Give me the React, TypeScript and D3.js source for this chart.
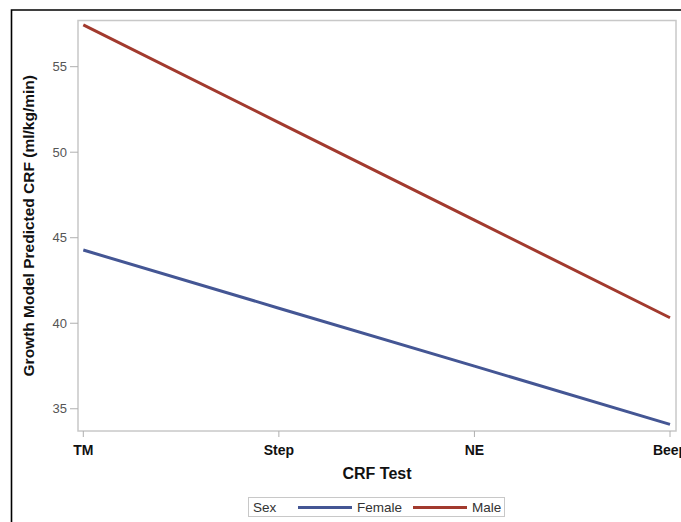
import React from "react";
import * as d3 from "d3";

const categories = ["TM", "Step", "NE", "Beep"];
const femaleValues = [44.28, 40.88, 37.49, 34.09];
const maleValues = [57.44, 51.73, 46.03, 40.32];
const yTicks = [35, 40, 45, 50, 55];
const seriesNames = ["Female", "Male"];
const seriesColors = ["#445694", "#A23A2E"];

const W = 681;
const H = 522;
const plot = { left: 78, right: 676, top: 20.5, bottom: 431 };
const FONT = "'Liberation Sans', Arial, Helvetica, sans-serif";

export default function App() {
  const x = d3
    .scalePoint<string>()
    .domain(categories)
    .range([83.3, 670]);
  const y = d3.scaleLinear().domain([33.7, 57.7]).range([plot.bottom, plot.top]);
  const line = d3
    .line<number>()
    .x((_, i) => x(categories[i]) as number)
    .y((d) => y(d));
  const series = [femaleValues, maleValues];

  return (
    <svg
      width={W}
      height={H}
      style={{ position: "absolute", left: 0, top: 0, background: "#fff" }}
      fontFamily={FONT}
    >
      <rect x={0} y={0} width={W} height={H} fill="#fff" />
      {/* outer frame */}
      <path d={`M11.5,${H + 2} L11.5,10 L${W + 2},10`} fill="none" stroke="#000" strokeWidth={1.6} />
      {/* plot frame */}
      <rect
        x={plot.left}
        y={plot.top}
        width={plot.right - plot.left}
        height={plot.bottom - plot.top}
        fill="none"
        stroke="#c8c8c8"
        strokeWidth={1.5}
      />
      {/* y ticks */}
      {yTicks.map((t) => (
        <g key={t}>
          <line x1={70} x2={plot.left} y1={y(t)} y2={y(t)} stroke="#b0b0b0" strokeWidth={1} />
          <text
            x={67}
            y={y(t)}
            dy="0.35em"
            textAnchor="end"
            fontSize={13}
            fill="#555"
          >
            {t}
          </text>
        </g>
      ))}
      {/* x ticks */}
      {categories.map((c) => (
        <g key={c}>
          <line x1={x(c)} x2={x(c)} y1={plot.bottom} y2={plot.bottom + 6} stroke="#b0b0b0" strokeWidth={1} />
          <text
            x={x(c)}
            y={455}
            textAnchor="middle"
            fontSize={14}
            fontWeight="bold"
            fill="#111"
          >
            {c}
          </text>
        </g>
      ))}
      {/* series lines */}
      {series.map((s, i) => (
        <path
          key={seriesNames[i]}
          d={line(s) as string}
          fill="none"
          stroke={seriesColors[i]}
          strokeWidth={3}
        />
      ))}
      {/* axis titles */}
      <text
        x={(plot.left + plot.right) / 2}
        y={479}
        textAnchor="middle"
        fontSize={16}
        fontWeight="bold"
        fill="#111"
      >
        CRF Test
      </text>
      <text
        transform={`translate(34,${(plot.top + plot.bottom) / 2}) rotate(-90)`}
        textAnchor="middle"
        fontSize={15.5}
        fontWeight="bold"
        fill="#111"
      >
        Growth Model Predicted CRF (ml/kg/min)
      </text>
      {/* legend */}
      <rect x={248.5} y={497.5} width={256} height={19} fill="#fff" stroke="#c8c8c8" strokeWidth={1} />
      <text x={253} y={512} fontSize={13.5} fill="#333">
        Sex
      </text>
      <line x1={298} x2={352} y1={507.5} y2={507.5} stroke={seriesColors[0]} strokeWidth={3} />
      <text x={357} y={512} fontSize={13.5} fill="#333">
        {seriesNames[0]}
      </text>
      <line x1={413} x2={467} y1={507.5} y2={507.5} stroke={seriesColors[1]} strokeWidth={3} />
      <text x={472} y={512} fontSize={13.5} fill="#333">
        {seriesNames[1]}
      </text>
    </svg>
  );
}
